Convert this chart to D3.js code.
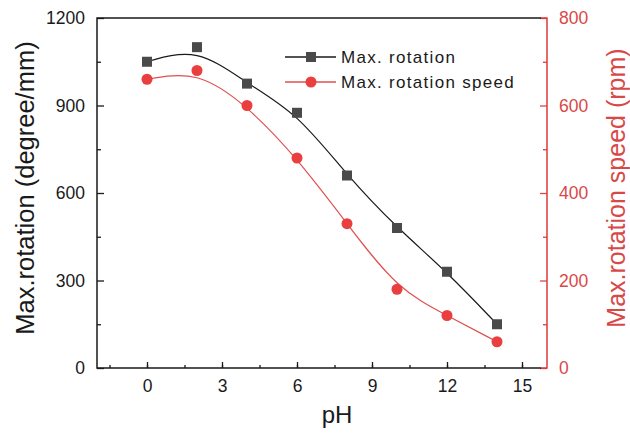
<!DOCTYPE html>
<html>
<head>
<meta charset="utf-8">
<script src="https://cdn.jsdelivr.net/npm/d3@7"></script>
<style>
  body { margin: 0; background: #fff; }
  text { font-family: "Liberation Sans", Arial, sans-serif; }
</style>
</head>
<body>
<div id="chart"></div>
<script>
// data
const ph = [0, 2, 4, 6, 8, 10, 12, 14]
const rotation = [1050, 1100, 975, 875, 660, 480, 330, 150]
const rotationSpeed = [660, 680, 600, 480, 330, 180, 120, 60]
const xTicks = [0, 3, 6, 9, 12, 15]
const yLeftTicks = [0, 300, 600, 900, 1200]
const yRightTicks = [0, 200, 400, 600, 800]

const W = 630, H = 434
const margin = {top: 18, right: 83, bottom: 66, left: 97}
const width = W - margin.left - margin.right
const height = H - margin.top - margin.bottom
const black = "#1a1a1a", red = "#e03a3a"

const svg = d3.select("#chart").append("svg")
    .attr("width", W).attr("height", H)
const g = svg.append("g")
    .attr("transform", "translate(" + margin.left + "," + margin.top + ")")

const x = d3.scaleLinear().domain([-2, 16]).range([0, width])
const yL = d3.scaleLinear().domain([0, 1200]).range([height, 0])
const yR = d3.scaleLinear().domain([0, 800]).range([height, 0])

// minor ticks first, then major ticks (inward)
function styleAxis(sel, color, size) {
    sel.select(".domain").remove()
    sel.selectAll("line").attr("stroke", color).attr("stroke-width", 1.3)
    sel.selectAll("text").attr("fill", color).style("font-size", size + "px")
}
const fmt = d3.format("d")

g.append("g").attr("transform", "translate(0," + height + ")")
    .call(d3.axisBottom(x).tickValues(d3.range(-1.5, 16, 1.5)).tickSize(-3).tickFormat(""))
    .call(s => styleAxis(s, black, 17.5))
g.append("g").attr("transform", "translate(0," + height + ")")
    .call(d3.axisBottom(x).tickValues(xTicks).tickSize(-6).tickPadding(12).tickFormat(fmt))
    .call(s => styleAxis(s, black, 17.5))

g.append("g")
    .call(d3.axisLeft(yL).tickValues(d3.range(150, 1200, 300)).tickSize(-4).tickFormat(""))
    .call(s => styleAxis(s, black, 17.5))
g.append("g")
    .call(d3.axisLeft(yL).tickValues(yLeftTicks).tickSize(-7).tickPadding(12).tickFormat(fmt))
    .call(s => styleAxis(s, black, 17.5))

g.append("g").attr("transform", "translate(" + width + ",0)")
    .call(d3.axisRight(yR).tickValues(d3.range(100, 800, 200)).tickSize(-4).tickFormat(""))
    .call(s => styleAxis(s, red, 17.5))
g.append("g").attr("transform", "translate(" + width + ",0)")
    .call(d3.axisRight(yR).tickValues(yRightTicks).tickSize(-7).tickPadding(12).tickFormat(fmt))
    .call(s => styleAxis(s, "#d94848", 17.5))

// frame
g.append("path").attr("fill", "none").attr("stroke", black).attr("stroke-width", 1.5)
    .attr("d", `M${width - 6},0H0V${height}H${width - 6}`)
g.append("path").attr("fill", "none").attr("stroke", red).attr("stroke-width", 1.5)
    .attr("d", `M${width - 6},0H${width}V${height}H${width - 6}`)

// curves
const lineL = d3.line().x((d, i) => x(ph[i])).y(d => yL(d)).curve(d3.curveBasis)
const lineR = d3.line().x((d, i) => x(ph[i])).y(d => yR(d)).curve(d3.curveBasis)

g.append("path").datum(rotation).attr("fill", "none")
    .attr("stroke", black).attr("stroke-width", 1.2).attr("d", lineL)
g.append("path").datum(rotationSpeed).attr("fill", "none")
    .attr("stroke", "#e05050").attr("stroke-width", 1.2).attr("d", lineR)

const sq = 10
g.append("g").selectAll("rect").data(rotation).enter().append("rect")
    .attr("x", (d, i) => x(ph[i]) - sq / 2)
    .attr("y", d => yL(d) - sq / 2)
    .attr("width", sq).attr("height", sq)
    .attr("fill", "#4a4a4a")

g.append("g").selectAll("circle").data(rotationSpeed).enter().append("circle")
    .attr("cx", (d, i) => x(ph[i]))
    .attr("cy", d => yR(d))
    .attr("r", 5.5)
    .attr("fill", "#ea3f3f")

// legend
const legend = svg.append("g")
const rows = [
    {label: "Max. rotation", line: black, marker: "rect", fill: "#4a4a4a", y: 57},
    {label: "Max. rotation speed", line: "#e05050", marker: "circle", fill: "#ea3f3f", y: 82}
]
rows.forEach(r => {
    legend.append("line").attr("x1", 285).attr("x2", 336)
        .attr("y1", r.y).attr("y2", r.y).attr("stroke", r.line).attr("stroke-width", 1.3)
    if (r.marker === "rect")
        legend.append("rect").attr("x", 311 - 5).attr("y", r.y - 5)
            .attr("width", 10).attr("height", 10).attr("fill", r.fill)
    else
        legend.append("circle").attr("cx", 311).attr("cy", r.y).attr("r", 5.5).attr("fill", r.fill)
    legend.append("text").attr("x", 341).attr("y", r.y + 6)
        .style("font-size", "17px").style("letter-spacing", "1.3px")
        .attr("fill", black).text(r.label)
})

// axis titles
svg.append("text").attr("text-anchor", "middle")
    .attr("x", 337).attr("y", 423)
    .style("font-size", "24px").attr("fill", black).text("pH")

svg.append("text").attr("text-anchor", "middle")
    .attr("transform", "translate(34,188) rotate(-90)")
    .style("font-size", "25.5px").attr("fill", black).text("Max.rotation (degree/mm)")

svg.append("text").attr("text-anchor", "middle")
    .attr("transform", "translate(625,188) rotate(-90)")
    .style("font-size", "25px").attr("fill", "#d94848").text("Max.rotation speed (rpm)")
</script>
</body>
</html>
